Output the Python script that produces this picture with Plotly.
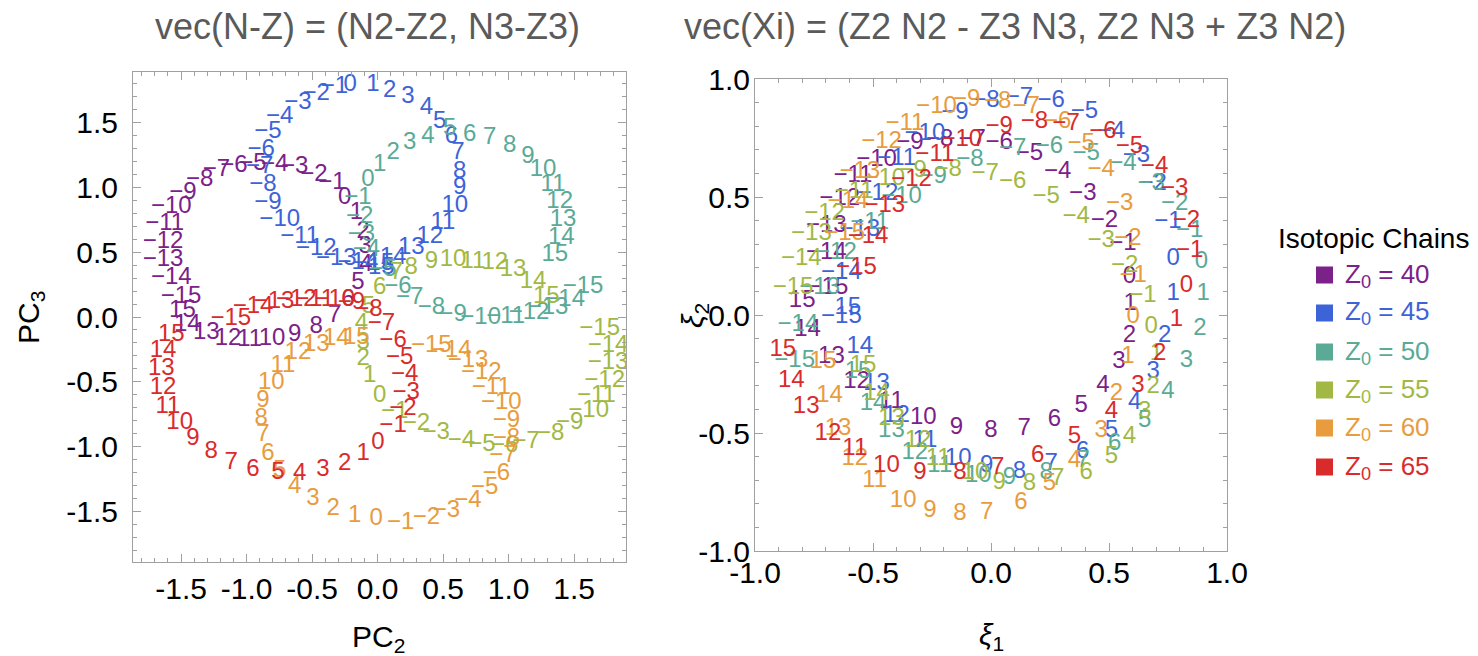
import plotly.graph_objects as go

# N - Z values labelled along every isotopic chain
nz_values = [-15, -14, -13, -12, -11, -10, -9, -8, -7, -6, -5, -4, -3, -2, -1,
             0, 1, 2, 3, 4, 5, 6, 7, 8, 9, 10, 11, 12, 13, 14, 15]

chain_z0 = [40, 45, 50, 55, 60, 65]
chain_colors = ["#7b2189", "#3d63d8", "#5aaa96", "#a1b944", "#e89c3d", "#d92b2b"]

# axis tick values for the two panels
pc_ticks = [-1.5, -1.0, -0.5, 0.0, 0.5, 1.0, 1.5]
xi_ticks = [-1.0, -0.5, 0.0, 0.5, 1.0]

# ---- vec(N-Z) panel: (PC2, PC3) coordinates per chain ----
pc2_z40 = [-1.50, -1.575, -1.638, -1.638, -1.625, -1.575, -1.486, -1.358, -1.231, -1.096, -0.951, -0.786, -0.633, -0.486, -0.348,
           -0.251, -0.162, -0.111, -0.094, -0.09, -0.15, -0.226, -0.33, -0.468, -0.633, -0.806, -0.976, -1.142, -1.308, -1.453, -1.49]
pc3_z40 = [0.157, 0.298, 0.44, 0.58, 0.715, 0.85, 0.954, 1.056, 1.133, 1.167, 1.177, 1.172, 1.154, 1.095, 1.031,
           0.915, 0.80, 0.658, 0.542, 0.40, 0.26, 0.131, 0.01, -0.075, -0.141, -0.172, -0.18, -0.172, -0.121, -0.064, 0.05]

pc2_z45 = [-0.03, -0.15, -0.315, -0.468, -0.595, -0.747, -0.837, -0.875, -0.90, -0.888, -0.837, -0.747, -0.608, -0.468, -0.33,
           -0.21, -0.035, 0.092, 0.232, 0.372, 0.474, 0.563, 0.614, 0.627, 0.627, 0.589, 0.499, 0.398, 0.257, 0.118, 0.028]
pc3_z45 = [0.41, 0.419, 0.445, 0.522, 0.619, 0.748, 0.877, 1.018, 1.154, 1.288, 1.429, 1.544, 1.648, 1.719, 1.776,
           1.789, 1.789, 1.745, 1.694, 1.609, 1.506, 1.39, 1.262, 1.12, 0.992, 0.856, 0.727, 0.619, 0.53, 0.453, 0.375]

pc2_z50 = [1.568, 1.428, 1.301, 1.156, 0.978, 0.787, 0.576, 0.41, 0.245, 0.156, 0.04, -0.086, -0.124, -0.137, -0.15,
           -0.073, 0.016, 0.118, 0.245, 0.385, 0.55, 0.703, 0.856, 1.008, 1.148, 1.263, 1.339, 1.39, 1.415, 1.402, 1.352]
pc3_z50 = [0.234, 0.131, 0.067, 0.028, 0.0, -0.01, 0.015, 0.067, 0.144, 0.234, 0.36, 0.517, 0.632, 0.773, 0.915,
           1.056, 1.172, 1.262, 1.339, 1.39, 1.447, 1.403, 1.378, 1.318, 1.231, 1.133, 1.018, 0.889, 0.748, 0.607, 0.478]

pc2_z55 = [1.695, 1.759, 1.759, 1.733, 1.67, 1.611, 1.466, 1.321, 1.132, 0.97, 0.797, 0.64, 0.448, 0.296, 0.13,
           0.016, -0.06, -0.111, -0.111, -0.124, -0.07, 0.016, 0.143, 0.257, 0.41, 0.576, 0.728, 0.894, 1.034, 1.186, 1.288]
pc3_z55 = [-0.09, -0.224, -0.352, -0.493, -0.609, -0.725, -0.82, -0.904, -0.964, -0.995, -0.989, -0.956, -0.897, -0.827, -0.73,
           -0.609, -0.455, -0.326, -0.198, -0.056, 0.08, 0.221, 0.337, 0.375, 0.426, 0.44, 0.426, 0.414, 0.362, 0.272, 0.157]

pc2_z60 = [0.41, 0.563, 0.69, 0.792, 0.868, 0.944, 0.983, 0.983, 0.957, 0.906, 0.817, 0.69, 0.525, 0.372, 0.176,
           -0.01, -0.175, -0.34, -0.493, -0.633, -0.747, -0.837, -0.875, -0.888, -0.875, -0.811, -0.722, -0.608, -0.468, -0.315, -0.162]
pc3_z60 = [-0.224, -0.262, -0.339, -0.429, -0.545, -0.665, -0.802, -0.943, -1.072, -1.213, -1.316, -1.419, -1.496, -1.547, -1.586,
           -1.56, -1.534, -1.483, -1.406, -1.308, -1.187, -1.059, -0.912, -0.784, -0.648, -0.507, -0.378, -0.28, -0.218, -0.172, -0.159]

pc2_z65 = [-1.121, -0.951, -0.79, -0.62, -0.48, -0.327, -0.2, -0.066, 0.03, 0.118, 0.169, 0.207, 0.219, 0.194, 0.118,
           0.003, -0.111, -0.251, -0.417, -0.595, -0.760, -0.951, -1.117, -1.27, -1.409, -1.511, -1.6, -1.638, -1.651, -1.638, -1.575]
pc3_z65 = [-0.013, 0.08, 0.118, 0.131, 0.131, 0.131, 0.105, 0.054, -0.055, -0.185, -0.314, -0.45, -0.588, -0.712, -0.84,
           -0.969, -1.059, -1.136, -1.18, -1.213, -1.2, -1.18, -1.123, -1.041, -0.943, -0.82, -0.692, -0.545, -0.403, -0.262, -0.141]

# ---- vec(Xi) panel: (xi1, xi2) coordinates per chain ----
xi1_z40 = [-0.691, -0.698, -0.698, -0.641, -0.585, -0.485, -0.344, -0.217, -0.08, 0.035, 0.163, 0.283, 0.389, 0.481, 0.559,
           0.587, 0.59, 0.587, 0.542, 0.474, 0.382, 0.269, 0.141, 0.0, -0.146, -0.287, -0.422, -0.57, -0.676, -0.777, -0.80]
xi2_z40 = [0.116, 0.261, 0.379, 0.492, 0.587, 0.658, 0.729, 0.74, 0.74, 0.727, 0.684, 0.606, 0.514, 0.40, 0.301,
           0.159, 0.045, -0.087, -0.2, -0.302, -0.384, -0.444, -0.481, -0.491, -0.477, -0.438, -0.37, -0.285, -0.179, -0.064, 0.06]

xi1_z45 = [-0.634, -0.634, -0.556, -0.479, -0.40, -0.28, -0.153, -0.021, 0.12, 0.255, 0.396, 0.51, 0.616, 0.687, 0.75,
           0.772, 0.772, 0.736, 0.687, 0.609, 0.51, 0.389, 0.255, 0.12, -0.018, -0.139, -0.28, -0.40, -0.485, -0.556, -0.607]
xi2_z45 = [-0.009, 0.18, 0.36, 0.514, 0.663, 0.769, 0.854, 0.908, 0.918, 0.908, 0.861, 0.776, 0.672, 0.556, 0.393,
           0.237, 0.088, -0.087, -0.24, -0.373, -0.491, -0.58, -0.633, -0.665, -0.64, -0.611, -0.533, -0.427, -0.292, -0.136, 0.031]

xi1_z50 = [-0.832, -0.818, -0.726, -0.655, -0.514, -0.379, -0.245, -0.089, 0.092, 0.248, 0.403, 0.559, 0.679, 0.778, 0.842,
           0.892, 0.899, 0.885, 0.828, 0.75, 0.651, 0.524, 0.39, 0.234, 0.078, -0.054, -0.217, -0.323, -0.422, -0.50, -0.563]
xi2_z50 = [-0.193, -0.044, 0.116, 0.261, 0.389, 0.499, 0.584, 0.658, 0.705, 0.712, 0.684, 0.641, 0.556, 0.471, 0.357,
           0.223, 0.088, -0.058, -0.197, -0.328, -0.448, -0.548, -0.62, -0.668, -0.689, -0.682, -0.64, -0.583, -0.491, -0.377, -0.243]

xi1_z55 = [-0.839, -0.804, -0.761, -0.705, -0.58, -0.45, -0.33, -0.181, -0.025, 0.092, 0.234, 0.361, 0.467, 0.566, 0.644,
           0.679, 0.701, 0.687, 0.651, 0.587, 0.51, 0.403, 0.283, 0.163, 0.035, -0.068, -0.224, -0.309, -0.422, -0.485, -0.542]
xi2_z55 = [0.116, 0.237, 0.343, 0.428, 0.52, 0.577, 0.61, 0.613, 0.599, 0.563, 0.499, 0.414, 0.315, 0.209, 0.081,
           -0.051, -0.165, -0.306, -0.413, -0.519, -0.60, -0.668, -0.696, -0.718, -0.711, -0.668, -0.611, -0.533, -0.441, -0.335, -0.214]

xi1_z60 = [-0.62, -0.606, -0.556, -0.464, -0.365, -0.231, -0.103, 0.028, 0.149, 0.283, 0.382, 0.467, 0.545, 0.58, 0.602,
           0.602, 0.58, 0.531, 0.467, 0.354, 0.248, 0.127, -0.018, -0.132, -0.259, -0.372, -0.493, -0.577, -0.648, -0.684, -0.712]
xi2_z60 = [0.345, 0.478, 0.606, 0.733, 0.811, 0.882, 0.911, 0.903, 0.882, 0.818, 0.726, 0.613, 0.471, 0.322, 0.166,
           -0.009, -0.179, -0.335, -0.491, -0.618, -0.718, -0.796, -0.838, -0.845, -0.831, -0.789, -0.703, -0.611, -0.484, -0.342, -0.20]

xi1_z65 = [-0.57, -0.521, -0.45, -0.337, -0.238, -0.124, 0.035, 0.184, 0.318, 0.474, 0.587, 0.693, 0.778, 0.828, 0.842,
           0.828, 0.786, 0.715, 0.623, 0.51, 0.354, 0.198, 0.028, -0.132, -0.301, -0.443, -0.577, -0.691, -0.783, -0.846, -0.882]
xi2_z65 = [0.201, 0.329, 0.464, 0.57, 0.677, 0.74, 0.797, 0.818, 0.811, 0.776, 0.712, 0.627, 0.535, 0.40, 0.272,
           0.123, -0.023, -0.165, -0.299, -0.413, -0.519, -0.597, -0.647, -0.668, -0.668, -0.64, -0.569, -0.505, -0.391, -0.278, -0.15]

pc_panel = [(pc2_z40, pc3_z40), (pc2_z45, pc3_z45), (pc2_z50, pc3_z50),
            (pc2_z55, pc3_z55), (pc2_z60, pc3_z60), (pc2_z65, pc3_z65)]
xi_panel = [(xi1_z40, xi2_z40), (xi1_z45, xi2_z45), (xi1_z50, xi2_z50),
            (xi1_z55, xi2_z55), (xi1_z60, xi2_z60), (xi1_z65, xi2_z65)]

W, H = 1478, 656
FONT = "Liberation Sans, Arial, Helvetica, sans-serif"
LABEL_SIZE = 24
TICK_SIZE = 30


def fmt(v):
    return ("\u2212" + str(-v)) if v < 0 else str(v)


def tick_fmt(v):
    return ("-" if v < 0 else "") + f"{abs(v):.1f}"


def px(x):
    return x / W


def py(y):
    return 1 - y / H


label_text = [fmt(v) for v in nz_values]

fig = go.Figure()
for (xs, ys), col in zip(pc_panel, chain_colors):
    fig.add_trace(go.Scatter(x=xs, y=ys, mode="text", text=label_text,
                             textposition="middle center",
                             textfont=dict(family=FONT, size=LABEL_SIZE, color=col),
                             xaxis="x", yaxis="y", showlegend=False, hoverinfo="skip"))
for (xs, ys), col in zip(xi_panel, chain_colors):
    fig.add_trace(go.Scatter(x=xs, y=ys, mode="text", text=label_text,
                             textposition="middle center",
                             textfont=dict(family=FONT, size=LABEL_SIZE, color=col),
                             xaxis="x2", yaxis="y2", showlegend=False, hoverinfo="skip"))

frame = dict(showline=True, mirror="ticks", linecolor="#a0a0a0", linewidth=1,
             ticks="inside", ticklen=8, tickcolor="#a0a0a0", tickwidth=1,
             showgrid=False, zeroline=False, automargin=False,
             tickfont=dict(family=FONT, size=TICK_SIZE, color="black"),
             minor=dict(ticks="inside", ticklen=4, tickcolor="#a0a0a0", dtick=0.1, showgrid=False))

fig.update_layout(
    template="none",
    width=W, height=H, margin=dict(l=0, r=0, t=0, b=0, pad=0, autoexpand=False),
    paper_bgcolor="white", plot_bgcolor="white", showlegend=False,
    xaxis=dict(frame, domain=[px(133), px(626)], range=[-1.867, 1.896],
               tickvals=pc_ticks, ticktext=[tick_fmt(v) for v in pc_ticks], anchor="y"),
    yaxis=dict(frame, domain=[py(562), py(72)], range=[-1.889, 1.889],
               tickvals=pc_ticks, ticktext=[tick_fmt(v) for v in pc_ticks], anchor="x",
               ticklabelstandoff=8),
    xaxis2=dict(frame, domain=[px(755), px(1227)], range=[-1.0, 1.0],
                tickvals=xi_ticks, ticktext=[tick_fmt(v) for v in xi_ticks], anchor="y2",
                ticklabelstandoff=-5),
    yaxis2=dict(frame, domain=[py(551), py(79)], range=[-1.0, 1.0],
                tickvals=xi_ticks, ticktext=[tick_fmt(v) for v in xi_ticks], anchor="x2",
                ticklabelstandoff=-2),
)

ann = []
# panel titles
ann.append(dict(x=px(367), y=py(26), text="vec(N-Z) = (N2-Z2, N3-Z3)",
                font=dict(family=FONT, size=36, color="#5a5a5a")))
ann.append(dict(x=px(1015), y=py(26), text="vec(Xi) = (Z2 N2 - Z3 N3, Z2 N3 + Z3 N2)",
                font=dict(family=FONT, size=36, color="#5a5a5a")))
# axis titles
ann.append(dict(x=px(378), y=py(638), text="PC<sub>2</sub>", font=dict(family=FONT, size=30, color="black")))
ann.append(dict(x=px(30), y=py(318), text="PC<sub>3</sub>", textangle=-90,
                font=dict(family=FONT, size=30, color="black")))
ann.append(dict(x=px(991), y=py(636), text="<i>\u03be</i><sub>1</sub>", font=dict(family=FONT, size=30, color="black")))
ann.append(dict(x=px(694), y=py(316), text="<i>\u03be</i><sub>2</sub>", textangle=-90,
                font=dict(family=FONT, size=30, color="black")))
# legend
ann.append(dict(x=px(1373), y=py(238), text="Isotopic Chains",
                font=dict(family=FONT, size=28, color="black")))
legend_rows = [275, 313, 352, 390, 428, 467]
shapes = []
for z0, col, yrow in zip(chain_z0, chain_colors, legend_rows):
    shapes.append(dict(type="rect", xref="paper", yref="paper",
                       x0=px(1316), x1=px(1333), y0=py(yrow + 8.5), y1=py(yrow - 8.5),
                       fillcolor=col, line=dict(width=0)))
    ann.append(dict(x=px(1343), y=py(yrow), xanchor="left", text=f"Z<sub>0</sub> = {z0}",
                    font=dict(family=FONT, size=26, color=col)))

for a in ann:
    a.setdefault("xanchor", "center")
    a.update(xref="paper", yref="paper", showarrow=False, yanchor="middle")
fig.update_layout(annotations=ann, shapes=shapes)

fig.write_html("out.html")
